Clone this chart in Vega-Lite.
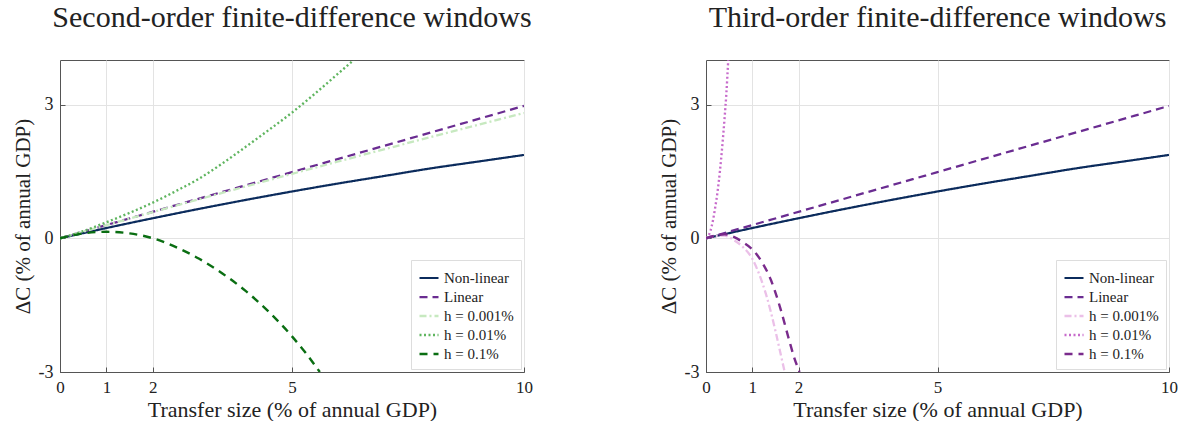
{
  "$schema": "https://vega.github.io/schema/vega-lite/v6.json",
  "padding": {"left": 11, "top": 2, "right": 2, "bottom": 0},
  "datasets": {
    "left": [
      {"x": 0, "y": 0, "series": "Non-linear"}, {"x": 1, "y": 0.23, "series": "Non-linear"}, {"x": 2, "y": 0.45, "series": "Non-linear"}, {"x": 3, "y": 0.66, "series": "Non-linear"}, {"x": 4, "y": 0.86, "series": "Non-linear"}, {"x": 5, "y": 1.05, "series": "Non-linear"}, {"x": 6, "y": 1.23, "series": "Non-linear"}, {"x": 7, "y": 1.4, "series": "Non-linear"}, {"x": 8, "y": 1.57, "series": "Non-linear"}, {"x": 9, "y": 1.72, "series": "Non-linear"}, {"x": 10, "y": 1.87, "series": "Non-linear"},
      {"x": 0, "y": 0, "series": "Linear"}, {"x": 5, "y": 1.485, "series": "Linear"}, {"x": 10, "y": 2.97, "series": "Linear"},
      {"x": 0, "y": 0, "series": "h = 0.001%"}, {"x": 1, "y": 0.295, "series": "h = 0.001%"}, {"x": 2, "y": 0.588, "series": "h = 0.001%"}, {"x": 3, "y": 0.877, "series": "h = 0.001%"}, {"x": 4, "y": 1.162, "series": "h = 0.001%"}, {"x": 5, "y": 1.445, "series": "h = 0.001%"}, {"x": 6, "y": 1.724, "series": "h = 0.001%"}, {"x": 7, "y": 2.0, "series": "h = 0.001%"}, {"x": 8, "y": 2.274, "series": "h = 0.001%"}, {"x": 9, "y": 2.544, "series": "h = 0.001%"}, {"x": 10, "y": 2.81, "series": "h = 0.001%"},
      {"x": 0, "y": 0, "series": "h = 0.01%"}, {"x": 0.5, "y": 0.16, "series": "h = 0.01%"}, {"x": 1, "y": 0.36, "series": "h = 0.01%"}, {"x": 1.5, "y": 0.57, "series": "h = 0.01%"}, {"x": 2, "y": 0.8, "series": "h = 0.01%"}, {"x": 2.5, "y": 1.06, "series": "h = 0.01%"}, {"x": 3, "y": 1.34, "series": "h = 0.01%"}, {"x": 3.5, "y": 1.68, "series": "h = 0.01%"}, {"x": 4, "y": 2.05, "series": "h = 0.01%"}, {"x": 4.5, "y": 2.43, "series": "h = 0.01%"}, {"x": 5, "y": 2.82, "series": "h = 0.01%"}, {"x": 5.5, "y": 3.25, "series": "h = 0.01%"}, {"x": 6, "y": 3.7, "series": "h = 0.01%"}, {"x": 6.33, "y": 4.0, "series": "h = 0.01%"},
      {"x": 0, "y": 0, "series": "h = 0.1%"}, {"x": 0.5, "y": 0.11, "series": "h = 0.1%"}, {"x": 1, "y": 0.145, "series": "h = 0.1%"}, {"x": 1.5, "y": 0.11, "series": "h = 0.1%"}, {"x": 2, "y": 0.0, "series": "h = 0.1%"}, {"x": 2.5, "y": -0.2, "series": "h = 0.1%"}, {"x": 3, "y": -0.46, "series": "h = 0.1%"}, {"x": 3.5, "y": -0.79, "series": "h = 0.1%"}, {"x": 4, "y": -1.18, "series": "h = 0.1%"}, {"x": 4.5, "y": -1.65, "series": "h = 0.1%"}, {"x": 5, "y": -2.2, "series": "h = 0.1%"}, {"x": 5.3, "y": -2.58, "series": "h = 0.1%"}, {"x": 5.6, "y": -3.0, "series": "h = 0.1%"}
    ],
    "right": [
      {"x": 0, "y": 0, "series": "Non-linear"}, {"x": 1, "y": 0.23, "series": "Non-linear"}, {"x": 2, "y": 0.45, "series": "Non-linear"}, {"x": 3, "y": 0.66, "series": "Non-linear"}, {"x": 4, "y": 0.86, "series": "Non-linear"}, {"x": 5, "y": 1.05, "series": "Non-linear"}, {"x": 6, "y": 1.23, "series": "Non-linear"}, {"x": 7, "y": 1.4, "series": "Non-linear"}, {"x": 8, "y": 1.57, "series": "Non-linear"}, {"x": 9, "y": 1.72, "series": "Non-linear"}, {"x": 10, "y": 1.87, "series": "Non-linear"},
      {"x": 0, "y": 0, "series": "Linear"}, {"x": 5, "y": 1.485, "series": "Linear"}, {"x": 10, "y": 2.97, "series": "Linear"},
      {"x": 0, "y": 0, "series": "h = 0.001%"}, {"x": 0.2, "y": 0.05, "series": "h = 0.001%"}, {"x": 0.4, "y": 0.06, "series": "h = 0.001%"}, {"x": 0.6, "y": -0.04, "series": "h = 0.001%"}, {"x": 0.8, "y": -0.2, "series": "h = 0.001%"}, {"x": 1.0, "y": -0.46, "series": "h = 0.001%"}, {"x": 1.1, "y": -0.68, "series": "h = 0.001%"}, {"x": 1.2, "y": -0.95, "series": "h = 0.001%"}, {"x": 1.3, "y": -1.27, "series": "h = 0.001%"}, {"x": 1.4, "y": -1.65, "series": "h = 0.001%"}, {"x": 1.5, "y": -2.08, "series": "h = 0.001%"}, {"x": 1.6, "y": -2.54, "series": "h = 0.001%"}, {"x": 1.7, "y": -3.0, "series": "h = 0.001%"},
      {"x": 0, "y": 0, "series": "h = 0.01%"}, {"x": 0.1, "y": 0.18, "series": "h = 0.01%"}, {"x": 0.15, "y": 0.4, "series": "h = 0.01%"}, {"x": 0.2, "y": 0.7, "series": "h = 0.01%"}, {"x": 0.25, "y": 1.05, "series": "h = 0.01%"}, {"x": 0.3, "y": 1.5, "series": "h = 0.01%"}, {"x": 0.35, "y": 2.05, "series": "h = 0.01%"}, {"x": 0.4, "y": 2.68, "series": "h = 0.01%"}, {"x": 0.44, "y": 3.25, "series": "h = 0.01%"}, {"x": 0.48, "y": 4.0, "series": "h = 0.01%"},
      {"x": 0, "y": 0, "series": "h = 0.1%"}, {"x": 0.2, "y": 0.06, "series": "h = 0.1%"}, {"x": 0.4, "y": 0.09, "series": "h = 0.1%"}, {"x": 0.6, "y": 0.03, "series": "h = 0.1%"}, {"x": 0.8, "y": -0.09, "series": "h = 0.1%"}, {"x": 1.0, "y": -0.25, "series": "h = 0.1%"}, {"x": 1.2, "y": -0.52, "series": "h = 0.1%"}, {"x": 1.4, "y": -0.93, "series": "h = 0.1%"}, {"x": 1.6, "y": -1.55, "series": "h = 0.1%"}, {"x": 1.8, "y": -2.3, "series": "h = 0.1%"}, {"x": 1.9, "y": -2.66, "series": "h = 0.1%"}, {"x": 2.02, "y": -3.0, "series": "h = 0.1%"}
    ]
  },
  "hconcat": [
    {
      "title": "Second-order finite-difference windows",
      "width": 464,
      "height": 312,
      "data": {"name": "left"},
      "mark": {"type": "line", "interpolate": "monotone", "clip": true},
      "encoding": {
        "x": {"field": "x", "type": "quantitative", "scale": {"domain": [0, 10], "nice": false}, "axis": {"values": [0, 1, 2, 5, 10], "title": "Transfer size (% of annual GDP)"}},
        "y": {"field": "y", "type": "quantitative", "scale": {"domain": [-3, 4], "nice": false}, "axis": {"values": [-3, 0, 3], "title": "ΔC (% of annual GDP)", "labelExpr": "replace(datum.label, '−', '-')"}},
        "color": {"field": "series", "type": "nominal", "title": null, "scale": {"domain": ["Non-linear", "Linear", "h = 0.001%", "h = 0.01%", "h = 0.1%"], "range": ["#0b2b5c", "#6a2c91", "#c7e9c0", "#5fb55f", "#0a6e12"]}},
        "strokeDash": {"field": "series", "type": "nominal", "title": null, "scale": {"domain": ["Non-linear", "Linear", "h = 0.001%", "h = 0.01%", "h = 0.1%"], "range": [[1, 0], [8, 5], [7, 3, 2, 3], [2, 2.5], [8, 6]]}},
        "strokeWidth": {"field": "series", "type": "nominal", "title": null, "scale": {"domain": ["Non-linear", "Linear", "h = 0.001%", "h = 0.01%", "h = 0.1%"], "range": [2.2, 2.4, 2.2, 2.6, 2.6]}}
      }
    },
    {
      "title": "Third-order finite-difference windows",
      "width": 463,
      "height": 312,
      "data": {"name": "right"},
      "mark": {"type": "line", "interpolate": "monotone", "clip": true},
      "encoding": {
        "x": {"field": "x", "type": "quantitative", "scale": {"domain": [0, 10], "nice": false}, "axis": {"values": [0, 1, 2, 5, 10], "title": "Transfer size (% of annual GDP)"}},
        "y": {"field": "y", "type": "quantitative", "scale": {"domain": [-3, 4], "nice": false}, "axis": {"values": [-3, 0, 3], "title": "ΔC (% of annual GDP)", "labelExpr": "replace(datum.label, '−', '-')"}},
        "color": {"field": "series", "type": "nominal", "title": null, "scale": {"domain": ["Non-linear", "Linear", "h = 0.001%", "h = 0.01%", "h = 0.1%"], "range": ["#0b2b5c", "#6a2c91", "#ebc0e8", "#c76bcb", "#7a2b8c"]}},
        "strokeDash": {"field": "series", "type": "nominal", "title": null, "scale": {"domain": ["Non-linear", "Linear", "h = 0.001%", "h = 0.01%", "h = 0.1%"], "range": [[1, 0], [8, 5], [7, 3, 2, 3], [2, 2.5], [8, 6]]}},
        "strokeWidth": {"field": "series", "type": "nominal", "title": null, "scale": {"domain": ["Non-linear", "Linear", "h = 0.001%", "h = 0.01%", "h = 0.1%"], "range": [2.2, 2.4, 2.2, 2.6, 2.6]}}
      }
    }
  ],
  "spacing": 124,
  "resolve": {"scale": {"color": "independent", "strokeDash": "independent", "strokeWidth": "independent", "x": "independent", "y": "independent"}, "legend": {"color": "independent", "strokeDash": "independent", "strokeWidth": "independent"}},
  "config": {
    "font": "Liberation Serif",
    "view": {"stroke": "#555", "strokeWidth": 1},
    "axis": {
      "labelFont": "Liberation Serif", "titleFont": "Liberation Serif",
      "titleFontWeight": "normal",
      "labelColor": "#222", "titleColor": "#222",
      "gridColor": "#e3e3e3", "gridWidth": 1,
      "domainColor": "#555", "tickColor": "#555", "tickSize": -5
    },
    "axisX": {"labelPadding": 12, "titlePadding": 4, "labelFontSize": 17, "titleFontSize": 22, "labelFlush": false},
    "axisY": {"labelPadding": 12, "titlePadding": 5, "labelFontSize": 18, "titleFontSize": 21},
    "title": {"font": "Liberation Serif", "fontSize": 30, "fontWeight": "normal", "color": "#222", "offset": 27},
    "legend": {
      "orient": "bottom-right", "offset": 3, "padding": 7,
      "fillColor": "white", "strokeColor": "#ddd",
      "labelFont": "Liberation Serif", "labelFontSize": 15, "labelColor": "#222",
      "symbolType": "stroke", "symbolSize": 361, "rowPadding": 0, "symbolStrokeWidth": 2.4
    }
  }
}
